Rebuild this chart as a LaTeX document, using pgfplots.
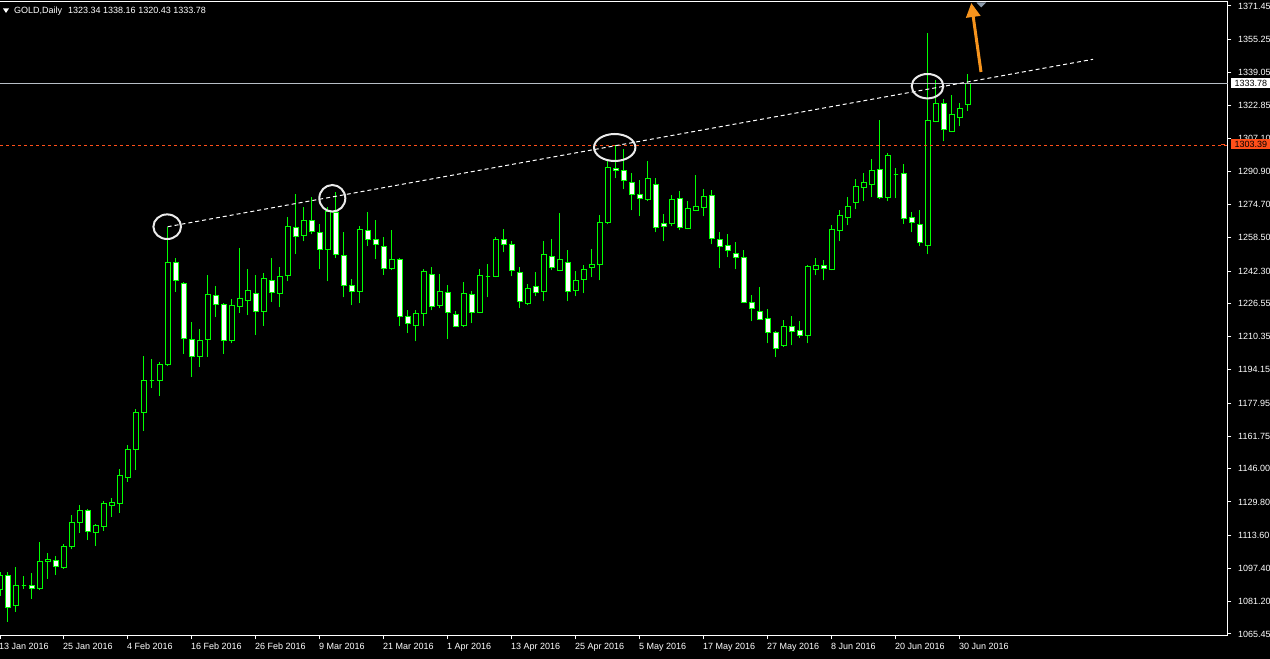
\documentclass[border=0pt]{standalone}
\usepackage{fontspec}
\setmainfont{Liberation Sans}
\usepackage{pgfplots}
\usepackage{pgfplotstable}
\pgfplotsset{compat=1.18}
\usetikzlibrary{arrows.meta}
\definecolor{cg}{HTML}{00FF00}
\definecolor{lvl}{HTML}{FF4F1A}
\definecolor{arr}{HTML}{F7941D}
\definecolor{bid}{HTML}{B8BEC6}
\definecolor{shiftm}{HTML}{8C9AAA}
\definecolor{ellc}{HTML}{EAEAEA}
\pgfdeclareplotmark{nothing}{}

\pgfplotstableread{
i o h l c
0 1087.2 1095.5 1084.0 1093.7
1 1094.0 1095.6 1071.4 1078.4
2 1079.4 1098.1 1076.3 1089.1
3 1089.1 1093.7 1087.5 1089.1
4 1089.1 1095.0 1082.6 1087.7
5 1087.5 1110.3 1087.0 1101.0
6 1100.8 1104.7 1092.4 1101.5
7 1101.3 1103.4 1094.3 1098.4
8 1097.7 1109.1 1097.2 1108.2
9 1107.9 1123.3 1106.8 1119.9
10 1119.7 1128.3 1114.8 1125.4
11 1125.8 1126.3 1111.2 1115.3
12 1114.8 1119.0 1108.4 1118.4
13 1117.7 1130.2 1115.8 1128.8
14 1127.9 1131.5 1122.6 1129.3
15 1128.9 1145.8 1124.5 1142.9
16 1141.8 1157.5 1139.6 1155.4
17 1155.4 1175.1 1145.3 1173.5
18 1173.5 1200.9 1164.5 1189.0
19 1189.0 1199.3 1185.4 1189.0
20 1189.0 1197.8 1181.5 1196.8
21 1196.8 1263.6 1196.0 1246.6
22 1246.6 1248.5 1232.2 1237.8
23 1236.3 1236.8 1201.9 1209.5
24 1208.9 1217.5 1190.8 1200.5
25 1200.5 1214.1 1195.6 1208.5
26 1208.9 1240.3 1200.5 1230.9
27 1230.5 1235.0 1220.0 1226.0
28 1226.0 1226.5 1201.9 1208.5
29 1208.5 1228.6 1207.0 1225.6
30 1224.9 1253.4 1221.9 1229.0
31 1228.0 1243.1 1220.8 1232.9
32 1231.4 1240.2 1211.3 1222.6
33 1222.6 1241.2 1215.6 1238.8
34 1237.8 1248.5 1227.1 1232.0
35 1231.4 1244.1 1224.6 1239.8
36 1240.2 1268.5 1237.3 1264.1
37 1263.6 1279.6 1250.6 1259.2
38 1259.7 1273.3 1256.8 1267.0
39 1267.0 1278.2 1260.2 1261.6
40 1261.1 1265.0 1243.1 1252.9
41 1252.9 1273.3 1237.3 1271.2
42 1270.9 1280.7 1248.5 1250.4
43 1249.9 1261.1 1229.5 1235.3
44 1235.3 1238.3 1225.6 1232.4
45 1232.4 1264.1 1226.5 1262.6
46 1262.1 1270.9 1254.4 1257.7
47 1257.7 1267.0 1248.0 1255.3
48 1254.4 1258.7 1240.6 1243.6
49 1243.6 1262.1 1242.6 1248.0
50 1248.0 1248.5 1215.3 1220.2
51 1220.2 1223.1 1212.1 1216.8
52 1215.9 1223.1 1208.0 1221.7
53 1221.7 1243.1 1215.3 1242.1
54 1240.7 1244.1 1223.1 1225.1
55 1225.6 1240.7 1224.1 1232.4
56 1231.9 1235.3 1209.0 1222.2
57 1221.2 1222.6 1214.8 1215.3
58 1215.9 1236.8 1214.8 1231.4
59 1230.9 1232.4 1216.8 1222.2
60 1222.2 1243.1 1221.7 1240.2
61 1239.7 1245.6 1229.5 1239.7
62 1239.7 1258.7 1239.2 1257.7
63 1257.7 1262.6 1251.4 1255.3
64 1255.3 1256.8 1239.7 1242.6
65 1241.6 1244.1 1224.1 1227.5
66 1226.6 1235.8 1225.6 1233.9
67 1234.8 1241.6 1229.9 1231.9
68 1232.4 1256.8 1227.5 1250.4
69 1249.5 1257.7 1242.6 1244.1
70 1242.6 1270.4 1242.1 1248.0
71 1246.6 1252.4 1227.5 1232.4
72 1232.9 1242.1 1229.9 1237.8
73 1238.3 1245.1 1231.4 1243.1
74 1244.1 1252.9 1239.2 1245.6
75 1245.6 1269.4 1237.8 1266.0
76 1266.0 1295.8 1265.1 1292.8
77 1292.3 1303.6 1287.5 1291.4
78 1291.4 1301.6 1282.1 1286.5
79 1285.5 1289.9 1271.9 1279.7
80 1279.7 1286.5 1268.9 1277.7
81 1277.2 1295.8 1276.3 1287.5
82 1284.6 1287.5 1261.1 1263.6
83 1265.5 1269.9 1256.8 1264.1
84 1265.5 1279.2 1264.1 1277.2
85 1277.7 1281.1 1262.1 1263.6
86 1263.1 1276.3 1262.6 1272.9
87 1271.9 1288.9 1271.4 1273.8
88 1273.4 1282.1 1268.9 1278.7
89 1279.2 1281.6 1255.3 1258.2
90 1257.7 1261.1 1243.6 1254.3
91 1254.8 1260.2 1249.0 1252.4
92 1250.9 1256.3 1243.1 1249.0
93 1249.0 1252.4 1226.5 1227.0
94 1227.0 1230.4 1217.8 1224.1
95 1222.6 1234.4 1218.3 1218.7
96 1219.1 1223.6 1207.0 1212.3
97 1212.3 1213.0 1200.3 1204.6
98 1206.0 1218.3 1205.5 1215.3
99 1215.3 1220.2 1206.1 1212.9
100 1213.4 1217.8 1209.9 1210.9
101 1210.9 1245.1 1207.0 1244.6
102 1243.1 1248.5 1240.2 1245.1
103 1245.1 1247.5 1237.8 1243.6
104 1243.1 1264.6 1242.6 1262.6
105 1262.1 1271.9 1256.8 1269.4
106 1268.5 1278.2 1264.6 1273.9
107 1275.8 1287.0 1272.4 1283.7
108 1283.1 1289.9 1276.3 1285.5
109 1284.6 1296.7 1278.2 1291.4
110 1291.9 1315.9 1277.2 1278.2
111 1278.2 1299.7 1276.3 1298.7
112 1289.4 1292.4 1277.7 1289.4
113 1289.9 1294.3 1265.1 1267.9
114 1268.5 1270.9 1261.1 1266.0
115 1265.1 1271.9 1254.3 1256.3
116 1254.8 1358.1 1250.4 1315.7
117 1315.3 1335.3 1314.8 1324.1
118 1324.1 1326.0 1305.5 1311.4
119 1310.4 1327.9 1309.9 1318.7
120 1317.2 1324.1 1312.8 1321.6
121 1323.34 1338.16 1320.43 1333.78
}\gold

\begin{document}
\begin{tikzpicture}[x=1pt,y=1pt,font=\fontsize{9}{10}\selectfont]
\useasboundingbox (0,0) rectangle (1270,659);
\fill[black] (0,0) rectangle (1270,659);
\begin{axis}[
  at={(0pt,23pt)}, anchor=south west,
  width=1228pt, height=634pt, scale only axis,
  xmin=0, xmax=153.5, ymin=1064.46, ymax=1373.40,
  axis x line*=bottom, axis y line*=right,
  axis line style={white, line width=1pt},
  clip mode=individual,
  xtick={0,8,16,24,32,40,48,56,64,72,80,88,96,104,112,120},
  xticklabels={13 Jan 2016,25 Jan 2016,4 Feb 2016,16 Feb 2016,26 Feb 2016,9 Mar 2016,21 Mar 2016,1 Apr 2016,13 Apr 2016,25 Apr 2016,5 May 2016,17 May 2016,27 May 2016,8 Jun 2016,20 Jun 2016,30 Jun 2016},
  ytick={1065.45,1081.20,1097.40,1113.60,1129.80,1146.00,1161.75,1177.95,1194.15,1210.35,1226.55,1242.30,1258.50,1274.70,1290.90,1307.10,1322.85,1339.05,1355.25,1371.45},
  yticklabels={1065.45,1081.20,1097.40,1113.60,1129.80,1146.00,1161.75,1177.95,1194.15,1210.35,1226.55,1242.30,1258.50,1274.70,1290.90,1307.10,1322.85,1339.05,1355.25,1371.45},
  tick align=outside, major tick length=3.5pt,
  tick style={white, line width=1pt},
  xticklabel style={anchor=base west, inner sep=0pt, xshift=-1pt, yshift=-10.5pt, text=white},
  yticklabel style={anchor=west, inner sep=0pt, xshift=6.5pt, text=white},
  font=\fontsize{9}{10}\selectfont,
]
\addplot[
  only marks, mark=nothing, scatter,
  visualization depends on={\thisrow{c}-\thisrow{o} \as \dc},
  visualization depends on={\thisrow{h}-\thisrow{o} \as \dh},
  visualization depends on={\thisrow{l}-\thisrow{o} \as \dl},
  scatter/@pre marker code/.code={%
    \pgfkeys{/pgf/fpu=true,/pgf/fpu/output format=fixed}%
    \pgfmathsetmacro\Dc{\dc}%
    \pgfmathsetmacro\Dh{\dh}%
    \pgfmathsetmacro\Dl{\dl}%
    \pgfkeys{/pgf/fpu=false}%
    \draw[cg, line width=1pt] (axis direction cs:0,\Dl) -- (axis direction cs:0,\Dh);%
    \ifdim\Dc pt<0pt
      \filldraw[fill=white, draw=cg, line width=1pt] (axis direction cs:-0.27,0) rectangle (axis direction cs:0.27,\Dc);%
    \else
      \filldraw[fill=black, draw=cg, line width=1pt] (axis direction cs:-0.27,0) rectangle (axis direction cs:0.27,\Dc);%
    \fi
  },
  scatter/@post marker code/.code={},
] table[x=i, y=o] {\gold};
\addplot[bid, line width=1pt] coordinates {(0,1333.78) (153.5,1333.78)};
\addplot[lvl, line width=1pt, dash pattern=on 3pt off 3pt] coordinates {(0,1303.39) (153.5,1303.39)};
\addplot[white, line width=1pt, dash pattern=on 4pt off 3pt] coordinates {(20.96,1263.9) (136.63,1345.48)};
\draw[ellc, line width=2pt] (axis cs:20.90,1263.90) ellipse (13.8pt and 12.3pt);
\draw[ellc, line width=2pt] (axis cs:41.54,1277.74) ellipse (13pt and 13.3pt);
\draw[ellc, line width=2pt] (axis cs:76.84,1302.50) ellipse (20.7pt and 13.5pt);
\draw[ellc, line width=2pt] (axis cs:115.94,1332.37) ellipse (15.8pt and 12.2pt);
\draw[white, line width=1pt] (rel axis cs:0,1) -- (rel axis cs:1,1);
\end{axis}
\fill[white] (1231,571.3) rectangle (1270,580.7);
\node[anchor=west, inner sep=0pt, text=black] at (1234.5,576) {1333.78};
\fill[lvl] (1231,510) rectangle (1270,519.7);
\node[anchor=west, inner sep=0pt, text=black] at (1234.5,514.9) {1303.39};
\draw[lvl, line width=1pt] (1221,514) -- (1225,514);
\draw[arr, line width=3pt, -{Triangle[length=14pt, width=14pt]}] (981,587) -- (971.3,656);
\fill[shiftm] (976.5,656.5) -- (986,656.5) -- (981.25,651.5) -- cycle;
\fill[white] (3,650.5) -- (9,650.5) -- (6,646) -- cycle;
\node[anchor=base west, inner sep=0pt, text=white] at (14,645) {GOLD,Daily\hspace{6pt}1323.34 1338.16 1320.43 1333.78};
\end{tikzpicture}
\end{document}
